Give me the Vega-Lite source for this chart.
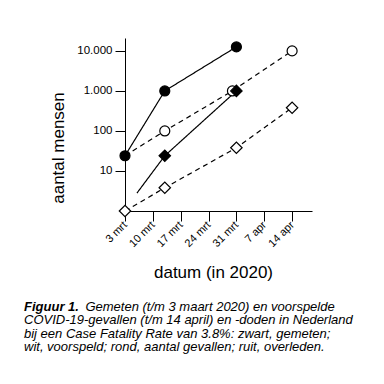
{
  "$schema": "https://vega.github.io/schema/vega-lite/v6.json",
  "autosize": {"type": "none"},
  "width": 187,
  "height": 173,
  "padding": {"left": 125, "top": 38, "right": 72, "bottom": 173},
  "background": "white",
  "title": {
    "text": "Figuur 1.",
    "subtitle": [
      "\u200b\u00a0\u00a0\u00a0\u00a0\u00a0\u00a0\u00a0\u00a0\u00a0\u00a0\u00a0\u00a0\u00a0\u00a0\u00a0\u00a0\u00a0Gemeten (t/m 3 maart 2020) en voorspelde",
      "COVID-19-gevallen (t/m 14 april) en -doden in Nederland",
      "bij een Case Fatality Rate van 3.8%: zwart, gemeten;",
      "wit, voorspeld; rond, aantal gevallen; ruit, overleden."
    ],
    "orient": "bottom",
    "anchor": "start",
    "frame": "group",
    "dx": -101,
    "offset": 21,
    "font": "Liberation Sans",
    "fontSize": 13,
    "fontStyle": "italic",
    "fontWeight": "bold",
    "color": "black",
    "subtitleFont": "Liberation Sans",
    "subtitleFontSize": 13,
    "subtitleFontStyle": "italic",
    "subtitleFontWeight": "normal",
    "subtitleColor": "black",
    "subtitleLineHeight": 13.4,
    "subtitlePadding": -13
  },
  "data": {
    "values": [
      {"reeks": "gevallen voorspeld", "vorm": "rond", "gevuld": "nee", "soort": "voorspeld", "punt": "nee", "datum": "2020-03-03", "waarde": 24},
      {"reeks": "gevallen voorspeld", "vorm": "rond", "gevuld": "nee", "soort": "voorspeld", "punt": "ja", "datum": "2020-03-13", "waarde": 100},
      {"reeks": "gevallen voorspeld", "vorm": "rond", "gevuld": "nee", "soort": "voorspeld", "punt": "ja", "datum": "2020-03-30", "waarde": 1000},
      {"reeks": "gevallen voorspeld", "vorm": "rond", "gevuld": "nee", "soort": "voorspeld", "punt": "ja", "datum": "2020-04-14", "waarde": 10000},
      {"reeks": "doden voorspeld", "vorm": "ruit", "gevuld": "nee", "soort": "voorspeld", "punt": "ja", "datum": "2020-03-03", "waarde": 1},
      {"reeks": "doden voorspeld", "vorm": "ruit", "gevuld": "nee", "soort": "voorspeld", "punt": "ja", "datum": "2020-03-13", "waarde": 3.8},
      {"reeks": "doden voorspeld", "vorm": "ruit", "gevuld": "nee", "soort": "voorspeld", "punt": "ja", "datum": "2020-03-31", "waarde": 38},
      {"reeks": "doden voorspeld", "vorm": "ruit", "gevuld": "nee", "soort": "voorspeld", "punt": "ja", "datum": "2020-04-14", "waarde": 380},
      {"reeks": "gevallen gemeten", "vorm": "rond", "gevuld": "ja", "soort": "gemeten", "punt": "ja", "datum": "2020-03-03", "waarde": 24},
      {"reeks": "gevallen gemeten", "vorm": "rond", "gevuld": "ja", "soort": "gemeten", "punt": "ja", "datum": "2020-03-13", "waarde": 1000},
      {"reeks": "gevallen gemeten", "vorm": "rond", "gevuld": "ja", "soort": "gemeten", "punt": "ja", "datum": "2020-03-31", "waarde": 12600},
      {"reeks": "doden gemeten", "vorm": "ruit", "gevuld": "ja", "soort": "gemeten", "punt": "nee", "datum": "2020-03-06", "waarde": 2.8},
      {"reeks": "doden gemeten", "vorm": "ruit", "gevuld": "ja", "soort": "gemeten", "punt": "ja", "datum": "2020-03-13", "waarde": 24},
      {"reeks": "doden gemeten", "vorm": "ruit", "gevuld": "ja", "soort": "gemeten", "punt": "ja", "datum": "2020-03-31", "waarde": 1000}
    ]
  },
  "encoding": {
    "x": {
      "field": "datum",
      "type": "temporal",
      "scale": {
        "type": "utc",
        "domain": [
          {"year": 2020, "month": "mar", "date": 3, "utc": true},
          {"year": 2020, "month": "apr", "date": 19, "utc": true}
        ]
      },
      "axis": {
        "values": [
          {"year": 2020, "month": "mar", "date": 3, "utc": true},
          {"year": 2020, "month": "mar", "date": 10, "utc": true},
          {"year": 2020, "month": "mar", "date": 17, "utc": true},
          {"year": 2020, "month": "mar", "date": 24, "utc": true},
          {"year": 2020, "month": "mar", "date": 31, "utc": true},
          {"year": 2020, "month": "apr", "date": 7, "utc": true},
          {"year": 2020, "month": "apr", "date": 14, "utc": true}
        ],
        "labelExpr": "utcFormat(datum.value, '%-d') + ' ' + (utcmonth(datum.value) == 2 ? 'mrt' : 'apr')",
        "labelAngle": -45,
        "labelAlign": "right",
        "labelBaseline": "middle",
        "labelFontSize": 11,
        "labelPadding": 2,
        "tickSize": 10,
        "title": "datum (in 2020)",
        "titleFontSize": 17,
        "titleFontWeight": "normal",
        "titleX": 88,
        "titleY": 66,
        "titleAlign": "center",
        "titleBaseline": "alphabetic",
        "labelOverlap": false,
        "labelBound": false,
        "labelFlush": false
      }
    },
    "y": {
      "field": "waarde",
      "type": "quantitative",
      "scale": {"type": "log", "domain": [1, 21000], "nice": false},
      "axis": {
        "values": [10, 100, 1000, 10000],
        "labelExpr": "replace(format(datum.value, ','), ',', '.')",
        "labelFontSize": 11.5,
        "labelPadding": 3,
        "tickSize": 10,
        "title": "aantal mensen",
        "titleFontSize": 17,
        "titleFontWeight": "normal",
        "titleAngle": -90,
        "titleX": -61.5,
        "titleY": 109.5,
        "titleAlign": "center",
        "titleBaseline": "alphabetic",
        "labelOverlap": false,
        "labelBound": false,
        "labelFlush": false
      }
    }
  },
  "layer": [
    {
      "mark": {"type": "line", "color": "black", "strokeWidth": 1.2},
      "encoding": {
        "detail": {"field": "reeks", "type": "nominal"},
        "strokeDash": {
          "field": "soort",
          "type": "nominal",
          "scale": {"domain": ["gemeten", "voorspeld"], "range": [[1, 0], [5, 4]]},
          "legend": null
        }
      }
    },
    {
      "transform": [{"filter": "datum.punt == 'ja'"}],
      "mark": {"type": "point", "filled": true, "stroke": "black", "strokeWidth": 1.2, "opacity": 1},
      "encoding": {
        "shape": {
          "field": "vorm",
          "type": "nominal",
          "scale": {"domain": ["rond", "ruit"], "range": ["circle", "diamond"]},
          "legend": null
        },
        "fill": {
          "field": "gevuld",
          "type": "nominal",
          "scale": {"domain": ["ja", "nee"], "range": ["black", "white"]},
          "legend": null
        },
        "size": {
          "field": "vorm",
          "type": "ordinal",
          "scale": {"domain": ["rond", "ruit"], "range": [100, 130]},
          "legend": null
        }
      }
    }
  ],
  "config": {
    "view": {"stroke": null},
    "font": "Liberation Sans",
    "axis": {
      "grid": false,
      "domainColor": "black",
      "domainWidth": 1,
      "tickColor": "black",
      "tickWidth": 1,
      "labelColor": "black",
      "titleColor": "black",
      "labelFont": "Liberation Sans",
      "titleFont": "Liberation Sans"
    }
  }
}
